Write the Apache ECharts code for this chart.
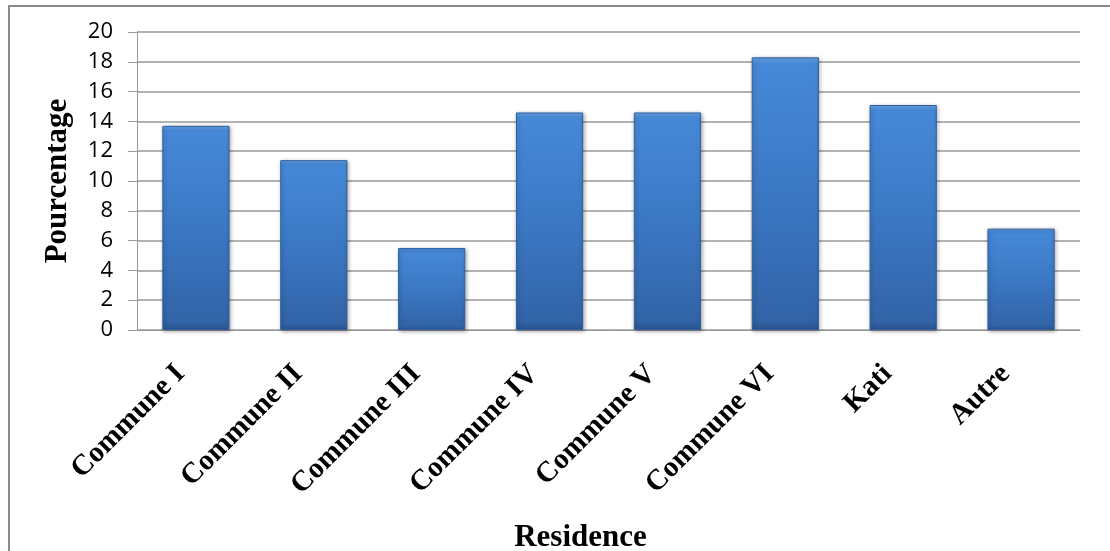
<!DOCTYPE html>
<html>
<head>
<meta charset="utf-8">
<script src="https://cdn.jsdelivr.net/npm/echarts@6/dist/echarts.min.js"></script>
<style>
  html, body { margin: 0; padding: 0; background: #fff; }
  #chart { width: 1110px; height: 551px; }
</style>
</head>
<body>
<div id="chart"></div>
<script>
// residence categories and percentages
const residences = ['Commune I', 'Commune II', 'Commune III', 'Commune IV', 'Commune V', 'Commune VI', 'Kati', 'Autre'];
const percentages = [13.7, 11.4, 5.5, 14.6, 14.6, 18.3, 15.1, 6.8];

const serif = '"Liberation Serif", "DejaVu Serif", serif';
const sans = '"Open Sans", "Liberation Sans", sans-serif';

let chart = echarts.init(document.getElementById('chart'));
chart.setOption({
    animation: false,
    graphic: [
        {
            type: 'rect',
            shape: { x: 9, y: 6, width: 1120, height: 580 },
            style: { fill: 'none', stroke: '#8c8c8c', lineWidth: 2 },
            silent: true
        }
    ],
    grid: {
        left: 137,
        right: 30,
        top: 32,
        bottom: 221,
        outerBoundsMode: 'none'
    },
    xAxis: {
        type: 'category',
        data: residences,
        name: 'Residence',
        nameLocation: 'middle',
        nameGap: 192,
        nameTextStyle: { fontFamily: serif, fontWeight: 'bold', fontSize: 31, color: '#000', padding: [0, 56, 0, 0] },
        axisLine: { lineStyle: { color: '#999', width: 1 } },
        axisTick: { show: false },
        axisLabel: {
            rotate: 45,
            interval: 0,
            margin: 24,
            padding: [0, 22, 0, 0],
            fontFamily: serif,
            fontWeight: 'bold',
            fontSize: 29,
            color: '#000'
        }
    },
    yAxis: {
        type: 'value',
        min: 0,
        max: 20,
        interval: 2,
        name: 'Pourcentage',
        nameLocation: 'middle',
        nameGap: 64,
        nameTextStyle: { fontFamily: serif, fontWeight: 'bold', fontSize: 31, color: '#000' },
        axisLine: { show: true, lineStyle: { color: '#999', width: 1 } },
        axisTick: { show: true, length: 9, lineStyle: { color: '#999' } },
        axisLabel: { margin: 24, fontFamily: sans, fontSize: 22, color: '#000' },
        splitLine: { lineStyle: { color: '#999', width: 1.5 } }
    },
    series: [
        {
            type: 'bar',
            data: percentages,
            barCategoryGap: '43%',
            itemStyle: {
                color: new echarts.graphic.LinearGradient(0, 0, 0, 1, [
                    { offset: 0, color: '#6aa6ea' },
                    { offset: 0.025, color: '#4689d8' },
                    { offset: 0.5, color: '#3b78c4' },
                    { offset: 0.96, color: '#3264a8' },
                    { offset: 1, color: '#2a5590' }
                ]),
                borderColor: '#2f5f9e',
                borderWidth: 1,
                shadowColor: 'rgba(0,0,0,0.35)',
                shadowBlur: 4,
                shadowOffsetX: 1,
                shadowOffsetY: 1
            }
        }
    ]
});
</script>
</body>
</html>
